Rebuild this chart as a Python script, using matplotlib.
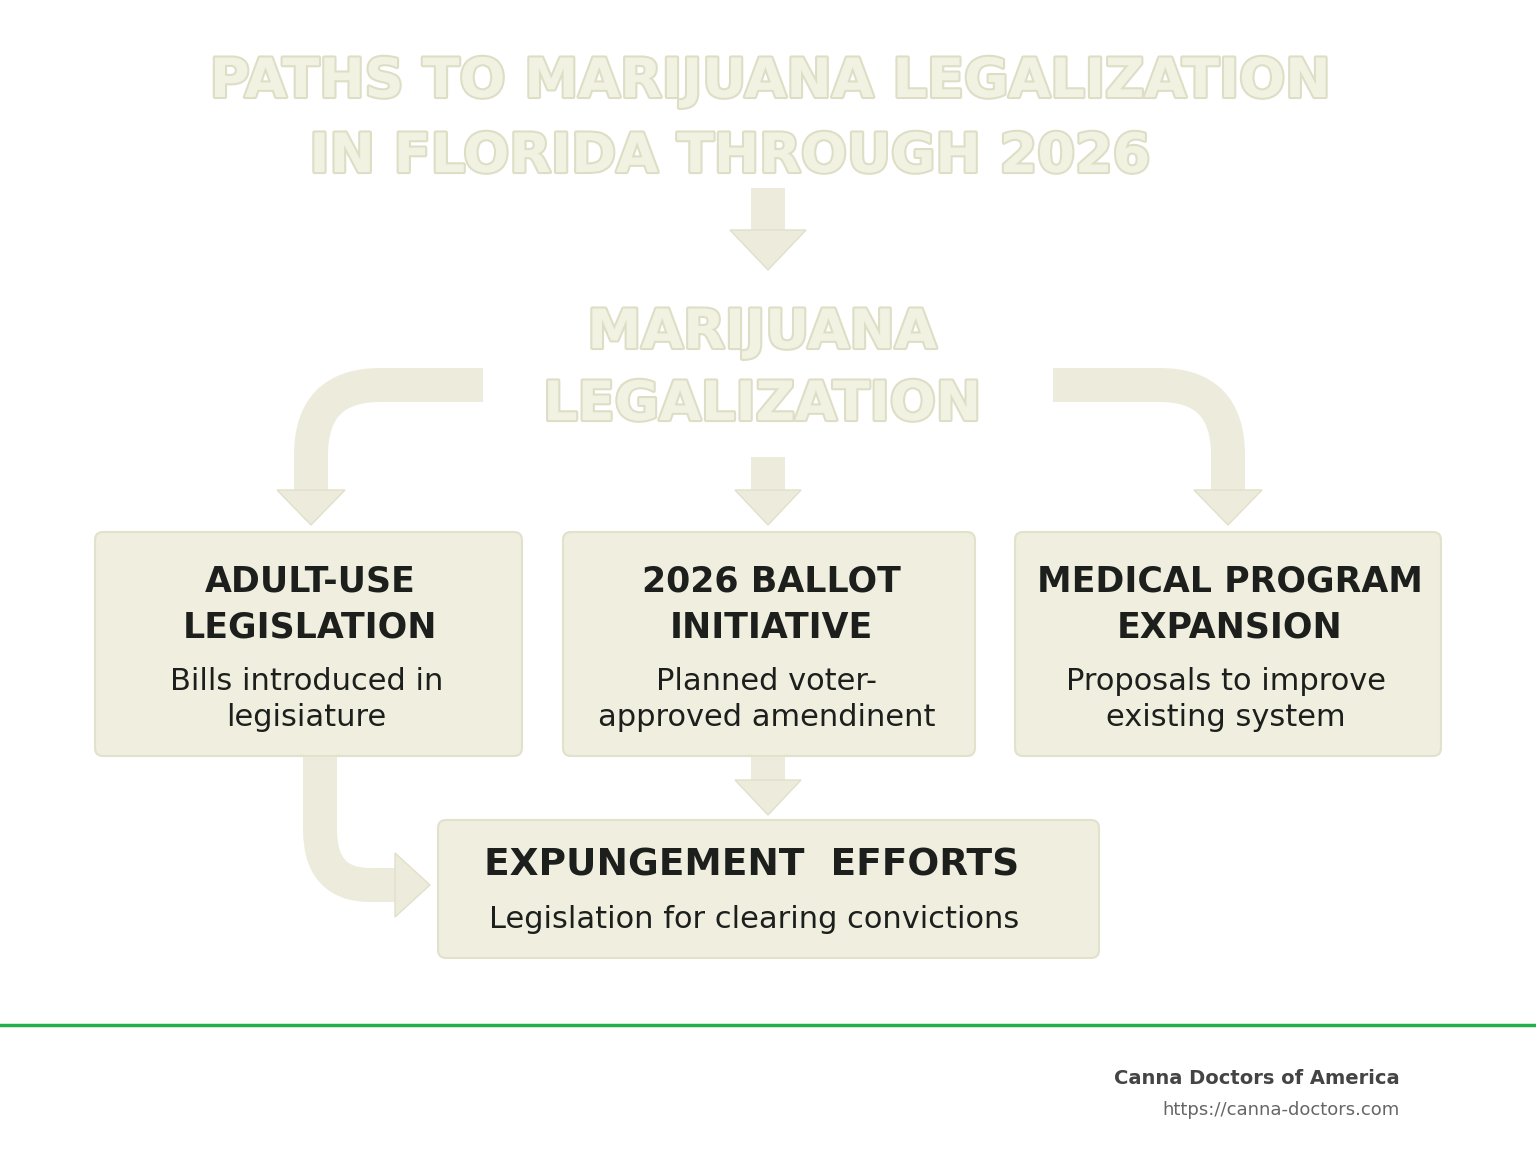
import matplotlib
matplotlib.use("Agg")
import matplotlib.pyplot as plt
from matplotlib.patches import FancyBboxPatch, Polygon, PathPatch
from matplotlib.path import Path
import matplotlib.patheffects as pe

title_lines = ["PATHS TO MARIJUANA LEGALIZATION", "IN FLORIDA THROUGH 2026"]
center_lines = ["MARIJUANA", "LEGALIZATION"]
box_titles = [["ADULT-USE", "LEGISLATION"], ["2026 BALLOT", "INITIATIVE"], ["MEDICAL PROGRAM", "EXPANSION"]]
box_subs = [["Bills introduced in", "legisiature"], ["Planned voter-", "approved amendinent"], ["Proposals to improve", "existing system"]]
bottom_title = "EXPUNGEMENT  EFFORTS"
bottom_sub = "Legislation for clearing convictions"
footer_name = "Canna Doctors of America"
footer_url = "https://canna-doctors.com"

BOX = "#efeedf"; EDGE = "#e2e1cc"; ARW = "#edecdc"; TXT = "#1c1f1c"
fig = plt.figure(figsize=(15.36, 11.54), dpi=100)
ax = fig.add_axes([0, 0, 1, 1]); ax.set_xlim(0, 1536); ax.set_ylim(1154, 0); ax.axis("off")
LW = 34 * 0.72

fx = dict(fontfamily="DejaVu Sans", fontweight="bold")
outline = [pe.withStroke(linewidth=3, foreground="#dedec6")]
ax.text(770, 82, title_lines[0], ha="center", va="center", fontsize=39, color="#f2f2e2", path_effects=outline, **fx)
ax.text(730, 157, title_lines[1], ha="center", va="center", fontsize=39, color="#f2f2e2", path_effects=outline, **fx)
for i, t in enumerate(center_lines):
    ax.text(762, 333 + 72 * i, t, ha="center", va="center", fontsize=39, color="#f2f2e2", path_effects=outline, **fx)

def head(cx, y0, y1, w=34, color=ARW):
    ax.add_patch(Polygon([(cx - w, y0), (cx + w, y0), (cx, y1)], closed=True, color=color, ec="#e0e0ca", lw=1))
def shaft(pts, codes=None):
    p = Path(pts, codes)
    ax.add_patch(PathPatch(p, fill=False, ec=ARW, lw=LW, capstyle="butt", joinstyle="round"))

shaft([(768, 188), (768, 232)]); head(768, 230, 270, 38)
shaft([(768, 457), (768, 492)]); head(768, 490, 525, 33)
shaft([(483, 385), (380, 385), (311, 385), (311, 455), (311, 492)],
      [Path.MOVETO, Path.LINETO, Path.CURVE3, Path.CURVE3, Path.LINETO]); head(311, 490, 525, 34)
shaft([(1053, 385), (1160, 385), (1228, 385), (1228, 455), (1228, 492)],
      [Path.MOVETO, Path.LINETO, Path.CURVE3, Path.CURVE3, Path.LINETO]); head(1228, 490, 525, 34)
shaft([(768, 756), (768, 782)]); head(768, 780, 815, 33)
shaft([(320, 756), (320, 830), (320, 885), (370, 885), (397, 885)],
      [Path.MOVETO, Path.LINETO, Path.CURVE3, Path.CURVE3, Path.LINETO])
ax.add_patch(Polygon([(395, 853), (395, 917), (430, 885)], closed=True, color=ARW, ec="#e0e0ca", lw=1))

boxes = [(95, 532, 427, 224), (563, 532, 412, 224), (1015, 532, 426, 224)]
for (x, y, w, h), tl, sl in zip(boxes, box_titles, box_subs):
    ax.add_patch(FancyBboxPatch((x, y), w, h, boxstyle="round,pad=0,rounding_size=8", fc=BOX, ec=EDGE, lw=1.5))
    cx = x + w / 2 + 2
    for k, t in enumerate(tl):
        ax.text(cx, 581 + 47 * k, t, ha="center", va="center", fontsize=25, color=TXT, **fx)
    for k, t in enumerate(sl):
        ax.text(cx - 4, 682 + 35 * k, t, ha="center", va="center", fontsize=22, color=TXT, fontfamily="DejaVu Sans")
ax.add_patch(FancyBboxPatch((438, 820), 661, 138, boxstyle="round,pad=0,rounding_size=8", fc=BOX, ec=EDGE, lw=1.5))
ax.text(752, 866, bottom_title, ha="center", va="center", fontsize=27, color=TXT, **fx)
ax.text(754, 919, bottom_sub, ha="center", va="center", fontsize=22, color=TXT, fontfamily="DejaVu Sans")

ax.plot([0, 1536], [1025, 1025], color="#22b04a", lw=2.5)
ax.text(1400, 1078, footer_name, ha="right", va="center", fontsize=14, fontweight="bold", color="#444444")
ax.text(1400, 1110, footer_url, ha="right", va="center", fontsize=13, color="#666666")
fig.savefig("out.png", dpi=100, facecolor="white")
